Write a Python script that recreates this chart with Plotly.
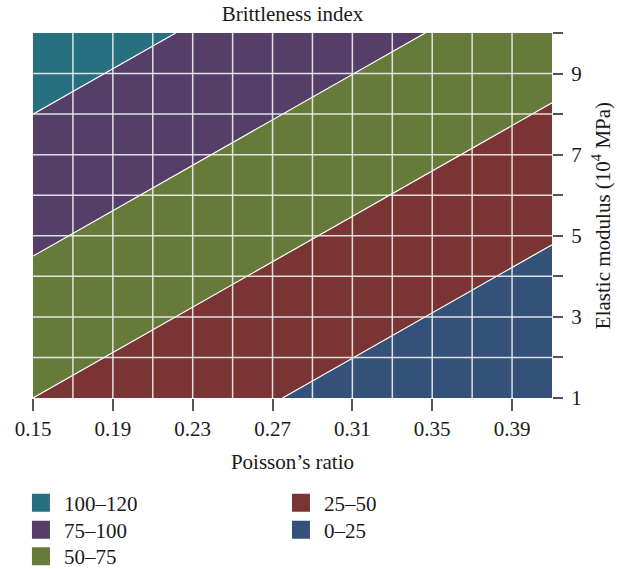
import plotly.graph_objects as go

# ---- data ----
poisson_edges = [0.15, 0.41]          # x extent of the field
modulus_edges = [1, 10]               # y extent of the field
# brittleness index at the four corners (planar field -> exact under bilinear interpolation)
bi_corners = [[50.0, -2.0],
              [114.3, 62.3]]
levels = [25, 50, 75, 100]
band_labels = ["0–25", "25–50", "50–75", "75–100", "100–120"]
band_colors = ["#335179", "#7b3434", "#667a3a", "#553f69", "#267080"]

x_ticks = [0.15, 0.19, 0.23, 0.27, 0.31, 0.35, 0.39]
x_tick_text = ["0.15", "0.19", "0.23", "0.27", "0.31", "0.35", "0.39"]
y_ticks = [1, 3, 5, 7, 9]
y_tick_text = ["1", "3", "5", "7", "9"]
y_minor_step = 1
grid_x = [0.17, 0.19, 0.21, 0.23, 0.25, 0.27, 0.29, 0.31, 0.33, 0.35, 0.37, 0.39]
grid_y = [2, 3, 4, 5, 6, 7, 8, 9]

FONT = "Liberation Serif"
TXT = "#1a1a1a"
FS = 21

# step colourscale: one colour per band
n = len(band_colors)
cs = []
for i, c in enumerate(band_colors):
    cs.append([i / n, c])
    cs.append([(i + 1) / n, c])

fig = go.Figure()
fig.add_trace(go.Contour(
    x=poisson_edges, y=modulus_edges, z=bi_corners,
    contours=dict(start=levels[0], end=levels[-1], size=levels[1] - levels[0],
                  coloring="fill", showlines=True),
    line=dict(color="white", width=1.2, smoothing=0),
    colorscale=cs, showscale=False, showlegend=False, hoverinfo="skip",
))

# legend entries: one legend per entry, laid out in two columns like the reference
legend_slots = [  # (band index, legend id, x paper, y paper)
    (4, "legend", -0.029, -0.2877),
    (3, "legend2", -0.029, -0.3616),
    (2, "legend3", -0.029, -0.4342),
    (1, "legend4", 0.472, -0.2877),
    (0, "legend5", 0.472, -0.3616),
]
legend_common = dict(font=dict(family=FONT, size=FS, color=TXT), bgcolor="rgba(0,0,0,0)",
                     orientation="v", xanchor="left", yanchor="middle", tracegroupgap=0,
                     itemwidth=36, itemclick=False, itemdoubleclick=False, visible=True)
legend_layout = {}
for idx, lg, lx, ly in legend_slots:
    fig.add_trace(go.Scatter(
        x=[None], y=[None], mode="markers", name=band_labels[idx], legend=lg,
        showlegend=True,
        marker=dict(symbol="square", size=16, color=band_colors[idx],
                    line=dict(width=2, color=band_colors[idx])),
    ))
    legend_layout[lg] = dict(x=lx, y=ly, **legend_common)

shapes = []
for gx in grid_x:
    shapes.append(dict(type="line", xref="x", yref="y", x0=gx, x1=gx,
                       y0=modulus_edges[0], y1=modulus_edges[1], layer="above",
                       line=dict(color="rgba(240,240,240,0.9)", width=1.5)))
for gy in grid_y:
    shapes.append(dict(type="line", xref="x", yref="y", y0=gy, y1=gy,
                       x0=poisson_edges[0], x1=poisson_edges[1], layer="above",
                       line=dict(color="rgba(240,240,240,0.9)", width=1.5)))

fig.update_layout(
    width=617, height=569,
    showlegend=True,
    margin=dict(l=33, r=65, t=33, b=171, autoexpand=False),
    paper_bgcolor="white", plot_bgcolor="white",
    font=dict(family=FONT, size=FS, color=TXT),
    title=dict(text="Brittleness index", x=0.5, xref="paper", y=1 - 14 / 569,
               yref="container", xanchor="center", yanchor="middle",
               font=dict(family=FONT, size=FS, color=TXT)),
    xaxis=dict(range=poisson_edges, tickvals=x_ticks, ticktext=x_tick_text,
               ticks="outside", ticklen=12, tickwidth=1.5, tickcolor="#555",
               showgrid=False, zeroline=False, showline=False, automargin=False,
               tickfont=dict(family=FONT, size=FS, color=TXT),
               title=dict(text="Poisson’s ratio", standoff=14,
                          font=dict(family=FONT, size=FS, color=TXT))),
    yaxis=dict(range=modulus_edges, side="right", tickvals=y_ticks, ticktext=y_tick_text,
               ticks="outside", ticklen=10, tickwidth=1.5, tickcolor="#555",
               minor=dict(ticks="outside", ticklen=10, tickwidth=1.5, tickcolor="#555",
                          dtick=y_minor_step, tick0=0, showgrid=False),
               ticklabelstandoff=4, automargin=False,
               showgrid=False, zeroline=False, showline=False,
               tickfont=dict(family=FONT, size=FS, color=TXT),
               title=dict(text="Elastic modulus (10<sup>4</sup> MPa)", standoff=14,
                          font=dict(family=FONT, size=FS, color=TXT))),
    shapes=shapes,
    **legend_layout,
)

fig.write_html("out.html")
